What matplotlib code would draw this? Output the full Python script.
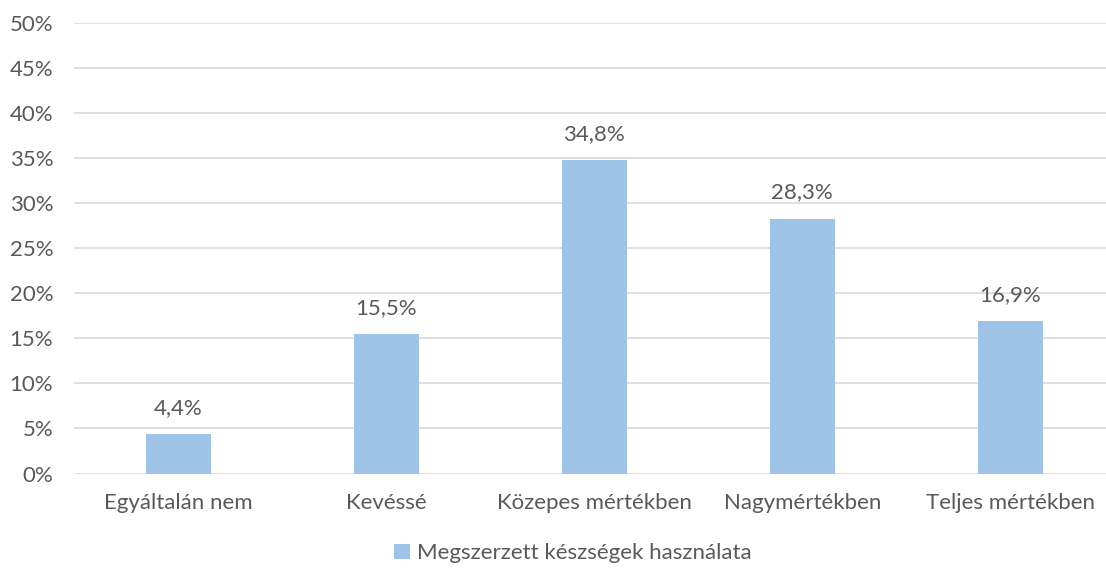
import matplotlib
matplotlib.use("Agg")
import matplotlib.pyplot as plt
from matplotlib.patches import Patch

categories = ["Egyáltalán nem", "Kevéssé", "Közepes mértékben", "Nagymértékben", "Teljes mértékben"]
values = [4.4, 15.5, 34.8, 28.3, 16.9]
series_name = "Megszerzett készségek használata"
yticks = [0, 5, 10, 15, 20, 25, 30, 35, 40, 45, 50]

plt.rcParams['font.family'] = ['Lato', 'DejaVu Sans']
text_color = "#595959"
bar_color = "#9DC3E6"
fs = 16

fig = plt.figure(figsize=(11.06, 5.69), dpi=100)
ax = fig.add_axes([0.0669, 0.1678, 1 - 0.0669, 0.9596 - 0.1678])

x = list(range(len(categories)))
ax.bar(x, values, width=0.3125, color=bar_color, zorder=3)
for xi, v in zip(x, values):
    ax.text(xi, v + 1.8, f"{v:.1f}%".replace(".", ","), ha="center", va="bottom",
            fontsize=fs, color=text_color)

ax.set_ylim(0, 50)
ax.set_xlim(-0.5, 4.46)
ax.set_yticks(yticks)
ax.set_yticklabels([f"{t}%" for t in yticks])
ax.set_xticks(x)
ax.set_xticklabels(categories)
ax.tick_params(axis='both', length=0, colors=text_color, labelsize=fs)
ax.tick_params(axis='y', pad=15)
ax.tick_params(axis='x', pad=14)
ax.grid(axis='y', color="#D9D9D9", linewidth=1.2, zorder=0)
for s in ax.spines.values():
    s.set_visible(False)

handles = [Patch(facecolor=bar_color, label=series_name)]
fig.legend(handles=handles, loc="center", bbox_to_anchor=(0.518, 0.028), frameon=False,
           fontsize=fs, labelcolor=text_color, handlelength=0.7, handleheight=0.7,
           handletextpad=0.3)

fig.savefig("out.png", dpi=100)
